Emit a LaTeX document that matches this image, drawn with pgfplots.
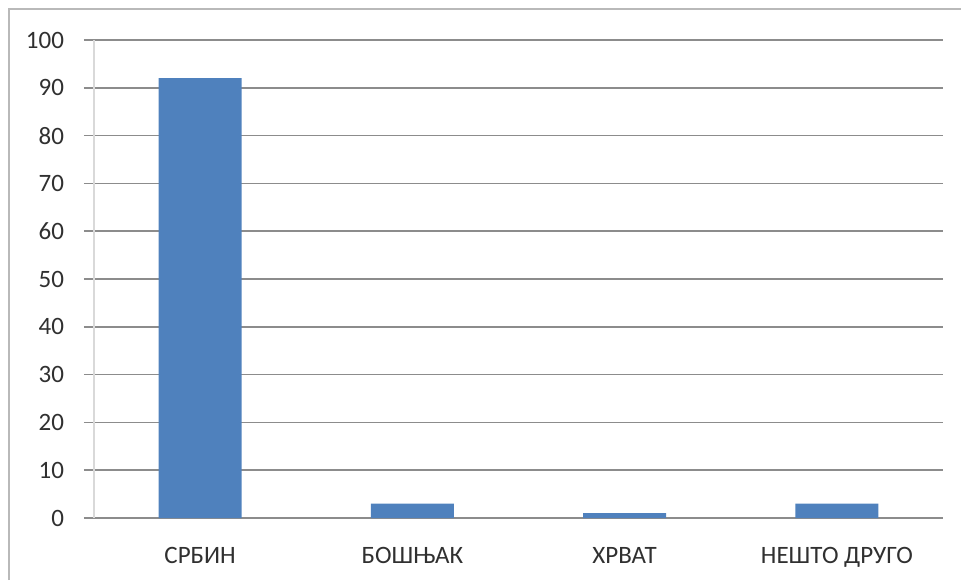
\documentclass[border=0pt]{standalone}
\usepackage{pgfplots}
\pgfplotsset{compat=1.18}
\usepackage{fontspec}
\setmainfont{Carlito}
\definecolor{barblue}{HTML}{4F81BD}
\definecolor{gridgray}{HTML}{8C8C8C}
\definecolor{labgray}{HTML}{303030}
\begin{document}
\begin{tikzpicture}
\useasboundingbox (0,0) rectangle (480.5pt,290pt);
\draw[gray!55, line width=1.2pt] (4.5pt,0pt) -- (4.5pt,285.5pt) -- (480.5pt,285.5pt);
\begin{axis}[
  at={(47pt,31pt)}, anchor=south west,
  scale only axis, width=424.5pt, height=239pt,
  ymin=0, ymax=100, ytick={0,10,...,100},
  xmin=-0.5, xmax=3.5, xtick={0,1,2,3},
  xticklabels={СРБИН,БОШЊАК,ХРВАТ,НЕШТО ДРУГО},
  major x tick style={draw=none},
  extra x ticks={-0.5,0.5,1.5,2.5,3.5},
  extra x tick labels={},
  extra x tick style={major tick length=5pt, tick style={gray!45, line width=0.6pt}, grid=none},
  axis x line*=bottom, axis y line*=left,
  x axis line style={gridgray, line width=0.8pt},
  y axis line style={gray!30, line width=0.6pt},
  tick align=outside,
  major tick length=5pt,
  ytick style={gridgray, line width=0.8pt},
  ymajorgrids, grid style={gridgray, line width=0.8pt},
  ybar, bar width=41.5pt,
  tick label style={font=\fontsize{12.5}{14}\selectfont, text=labgray},
  yticklabel style={xshift=-6.5pt},
  xticklabel style={yshift=-6pt},
  /pgf/number format/assume math mode=true,
]
\addplot[fill=barblue, draw=none] coordinates {(0,92) (1,3) (2,1) (3,3)};
\end{axis}
\end{tikzpicture}
\end{document}
